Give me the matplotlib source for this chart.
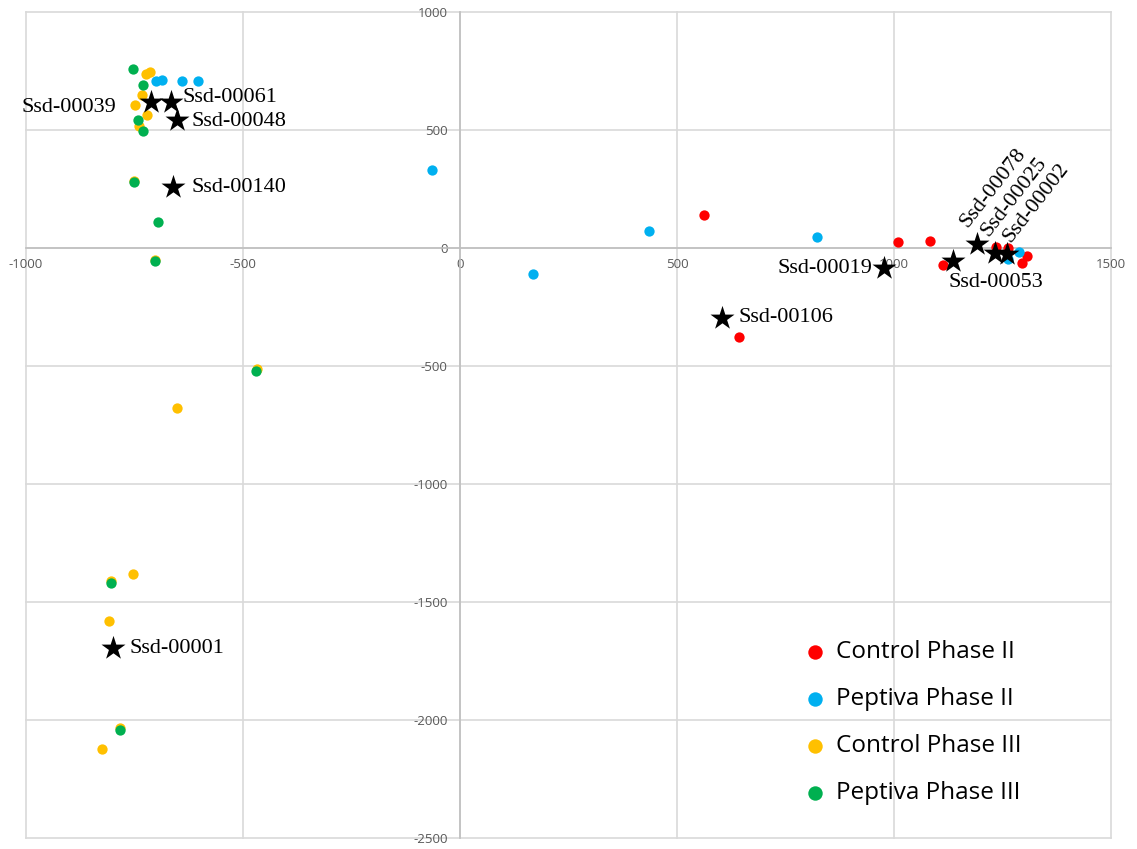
import matplotlib
matplotlib.use("Agg")
import matplotlib.pyplot as plt

# Sample scores per group
ctrl2_x = [562, 642, 1010, 1083, 1113, 1236, 1263, 1307, 1296]
ctrl2_y = [138, -379, 24, 28, -70, 4, 2, -34, -63]

pep2_x = [-700, -687, -640, -603, -64, 168, 435, 823, 1288, 1263]
pep2_y = [706, 713, 706, 706, 329, -111, 71, 45, -18, -48]

ctrl3_x = [-723, -714, -733, -748, -721, -740, -751, -703, -468, -651,
           -753, -804, -808, -783, -826]
ctrl3_y = [738, 745, 649, 607, 562, 519, 285, -50, -513, -677,
           -1380, -1411, -1580, -2035, -2122]

pep3_x = [-753, -730, -743, -731, -751, -697, -703, -469, -804, -783]
pep3_y = [760, 689, 544, 494, 280, 110, -55, -521, -1421, -2042]

# Highlighted isolates
star_names = ["Ssd-00039", "Ssd-00061", "Ssd-00048", "Ssd-00140", "Ssd-00001",
              "Ssd-00106", "Ssd-00019", "Ssd-00053", "Ssd-00078", "Ssd-00025",
              "Ssd-00002"]
star_x = [-711, -666, -651, -661, -800, 604, 976, 1136, 1192, 1232, 1261]
star_y = [618, 618, 541, 258, -1696, -295, -83, -55, 19, -20, -24]

x_ticks = [-1000, -500, 0, 500, 1000, 1500]
y_ticks = [1000, 500, 0, -500, -1000, -1500, -2000, -2500]

series = [
    ("Control Phase II", ctrl2_x, ctrl2_y, "#FF0000"),
    ("Peptiva Phase II", pep2_x, pep2_y, "#00B0F0"),
    ("Control Phase III", ctrl3_x, ctrl3_y, "#FFC000"),
    ("Peptiva Phase III", pep3_x, pep3_y, "#00B050"),
]

# label placement: (dx pt, dy pt, ha, va, rotation)
label_style = {
    "Ssd-00039": (-25, -3.6, "right", "center", 0),
    "Ssd-00061": (8.4, 3.6, "left", "center", 0),
    "Ssd-00048": (10, -1.2, "left", "center", 0),
    "Ssd-00140": (13, 0, "left", "center", 0),
    "Ssd-00001": (12, 0, "left", "center", 0),
    "Ssd-00106": (12, 0, "left", "center", 0),
    "Ssd-00019": (-8, -0.7, "right", "center", 0),
    "Ssd-00053": (-3.6, -15.5, "left", "center", 0),
    "Ssd-00078": (-7, 11.5, "left", "baseline", 52),
    "Ssd-00025": (-4.5, 11.2, "left", "baseline", 52),
    "Ssd-00002": (2.5, 7.6, "left", "baseline", 52),
}

fig = plt.figure(figsize=(11.37, 8.49), dpi=100)
ax = fig.add_axes([26 / 1137, 11 / 849, 1085 / 1137, 826 / 849])

for name, xs, ys, col in series:
    ax.scatter(xs, ys, s=55, color=col, linewidths=0, label=name, zorder=3)

ax.scatter(star_x, star_y, s=330, marker="*", color="black", linewidths=0, zorder=5)
for name, sx, sy in zip(star_names, star_x, star_y):
    dx, dy, ha, va, rot = label_style[name]
    ax.annotate(name, (sx, sy), xytext=(dx, dy), textcoords="offset points",
                ha=ha, va=va, rotation=rot, rotation_mode="anchor",
                fontsize=16, family="Liberation Serif", color="black", zorder=6)

ax.set_xlim(-1000, 1500)
ax.set_ylim(-2500, 1000)
ax.set_xticks(x_ticks)
ax.set_yticks(y_ticks)
ax.set_xticklabels([str(v) for v in x_ticks])
ax.set_yticklabels([str(v) for v in y_ticks])

ax.spines["left"].set_position(("data", 0))
ax.spines["bottom"].set_position(("data", 0))
for s in ("top", "right"):
    ax.spines[s].set_visible(False)
for s in ("left", "bottom"):
    ax.spines[s].set_color("#BFBFBF")
    ax.spines[s].set_linewidth(1.2)

ax.tick_params(axis="both", length=0, labelcolor="#595959", labelsize=9.5)
ax.tick_params(axis="x", pad=7)
ax.tick_params(axis="y", pad=9)
for lab in ax.get_xticklabels() + ax.get_yticklabels():
    lab.set_family("Open Sans")

ax.grid(True, color="#D9D9D9", linewidth=1.2)
ax.set_axisbelow(True)
for gl in ax.get_xgridlines() + ax.get_ygridlines():
    gl.set_clip_on(False)

leg = ax.legend(loc="upper left", bbox_to_anchor=(0.7095, 0.251), frameon=False,
                prop={"family": "Open Sans", "size": 17.5}, markerscale=1.4,
                handlelength=0.8, handletextpad=0.45, labelspacing=0.94,
                borderaxespad=0)

fig.savefig("out.png", dpi=100)
